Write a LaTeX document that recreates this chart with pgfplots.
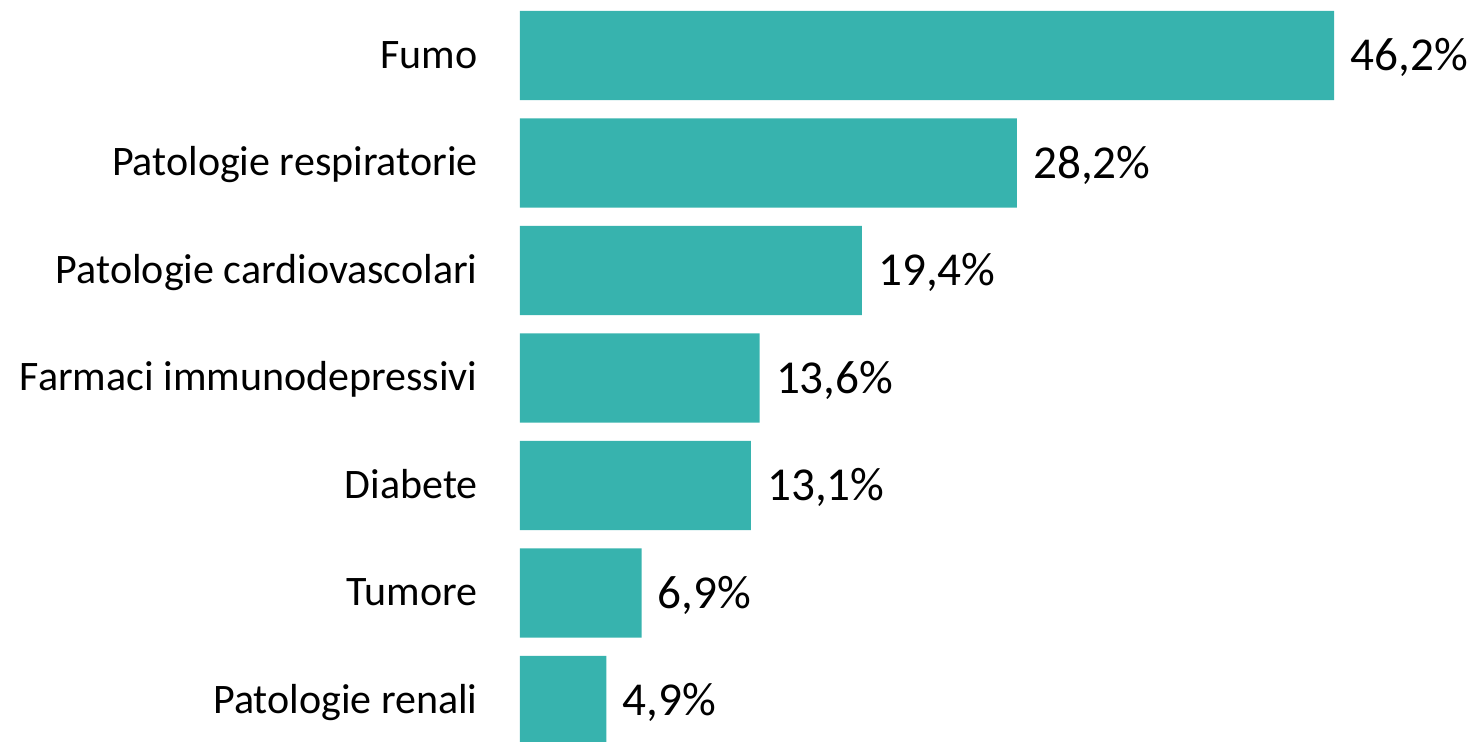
\documentclass[border=0pt]{standalone}
\usepackage{pgfplots}
\pgfplotsset{compat=1.18}
\usepackage{fontspec}
\setmainfont{Carlito}
\definecolor{barc}{RGB}{55,179,174}
\begin{document}
\begin{tikzpicture}
\begin{axis}[
  at={(260pt,0pt)}, anchor=south west,
  scale only axis, width=477pt, height=371pt,
  xbar, bar width=44.6pt,
  xmin=0, xmax=54.14, ymin=-0.385, ymax=6.517,
  axis line style={draw=none},
  xtick=\empty,
  ytick={0,...,6},
  yticklabels={Patologie renali, Tumore, Diabete, Farmaci immunodepressivi, Patologie cardiovascolari, Patologie respiratorie, Fumo},
  major tick length=0pt,
  tick style={draw=none},
  yticklabel style={font=\fontsize{21pt}{25pt}\selectfont, anchor=base east, inner sep=0pt, xshift=-21pt, yshift=-6.4pt},
  nodes near coords={\pgfmathprintnumber[use comma,fixed,precision=1,fixed zerofill,assume math mode=true]{\pgfplotspointmeta}\%},
  point meta=x,
  every node near coord/.style={font=\fontsize{23.6pt}{28pt}\selectfont, anchor=base west, inner sep=0pt, xshift=8pt, yshift=-7.5pt, black},
]
\addplot[fill=barc, draw=none] coordinates {
  (4.9,0) (6.9,1) (13.1,2) (13.6,3) (19.4,4) (28.2,5) (46.2,6)
};
\end{axis}
\pgfresetboundingbox
\path (0,0) rectangle (737pt,371pt);
\end{tikzpicture}
\end{document}
